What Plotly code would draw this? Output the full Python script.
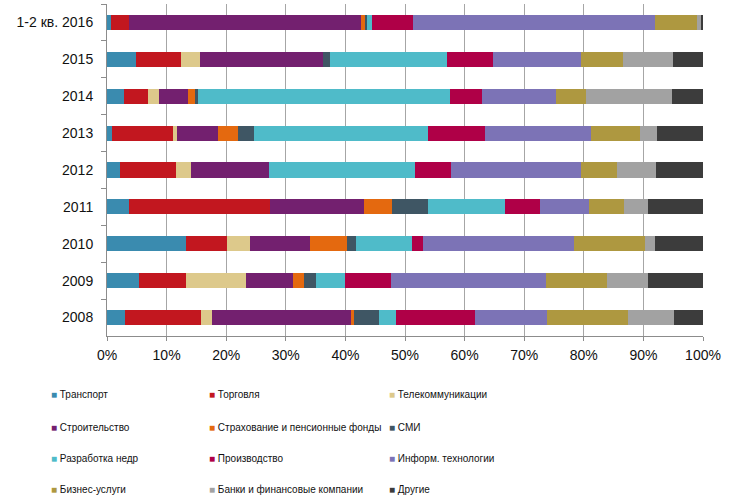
import plotly.graph_objects as go

periods = ["1-2 кв. 2016", "2015", "2014", "2013", "2012", "2011", "2010", "2009", "2008"]

transport    = [0.7, 4.9, 2.8, 0.8, 2.1, 3.7, 13.2, 5.4, 3.1]
trade        = [3.0, 7.5, 4.0, 10.2, 9.4, 23.6, 6.9, 7.8, 12.6]
telecom      = [0.0, 3.2, 1.9, 0.8, 2.6, 0.0, 3.9, 10.2, 1.9]
construction = [38.9, 20.6, 4.9, 6.8, 13.1, 15.9, 10.1, 7.8, 23.5]
insurance    = [0.8, 0.0, 1.2, 3.3, 0.0, 4.6, 6.1, 1.9, 0.3]
media        = [0.3, 1.2, 0.4, 2.7, 0.0, 6.1, 1.5, 1.9, 4.2]
mining       = [0.8, 19.6, 42.3, 29.3, 24.5, 12.9, 9.5, 5.0, 2.9]
production   = [6.8, 7.7, 5.4, 9.5, 6.1, 5.9, 1.9, 7.6, 13.2]
it_sector    = [40.6, 14.8, 12.4, 17.8, 21.7, 8.2, 25.3, 26.0, 12.1]
business     = [7.1, 7.0, 5.0, 8.3, 6.0, 5.8, 11.9, 10.3, 13.6]
banks        = [0.8, 8.5, 14.5, 2.8, 6.6, 4.1, 1.6, 6.8, 7.7]
other        = [0.2, 5.0, 5.2, 7.7, 7.9, 9.2, 8.1, 9.3, 4.9]

series_names = ["Транспорт", "Торговля", "Телекоммуникации",
                "Строительство", "Страхование и пенсионные фонды", "СМИ",
                "Разработка недр", "Производство", "Информ. технологии",
                "Бизнес-услуги", "Банки и финансовые компании", "Другие"]
series_values = [transport, trade, telecom, construction, insurance, media,
                 mining, production, it_sector, business, banks, other]
colors = ["#3A8BAF", "#C2171F", "#DDC98B", "#73206F", "#E4690F", "#3F5664",
          "#4FBBC9", "#AF0047", "#7C73B6", "#AE9840", "#A2A2A2", "#3C3C3C"]

xtick_vals = [0, 10, 20, 30, 40, 50, 60, 70, 80, 90, 100]
xtick_text = ["0%", "10%", "20%", "30%", "40%", "50%", "60%", "70%", "80%", "90%", "100%"]

FONT = "Liberation Sans, Arial, sans-serif"

fig = go.Figure()
for name, vals, col in zip(series_names, series_values, colors):
    fig.add_trace(go.Bar(
        y=periods, x=vals, name=name, orientation="h",
        marker=dict(color=col, line=dict(width=0)),
        showlegend=False,
    ))

W, H = 739, 501
ml, mt, mr, mb = 107, 4, 36, 165
pw = W - ml - mr
ph = H - mt - mb

# legend drawn as real text: coloured square glyph + series name, 3 columns x 4 rows
col_px = [49, 207, 387]
row_px = [394, 427, 458, 489]
for i, (name, col) in enumerate(zip(series_names, colors)):
    r, c = divmod(i, 3)
    fig.add_annotation(
        xref="paper", yref="paper",
        x=(col_px[c] - ml) / pw, y=(H - mb - row_px[r]) / ph,
        xanchor="left", yanchor="middle", showarrow=False,
        text=f'<span style="color:{col}">■</span> {name}',
        font=dict(family=FONT, size=10, color="#111111"),
    )

fig.update_layout(
    width=W, height=H,
    margin=dict(l=ml, r=mr, t=mt, b=mb),
    barmode="stack", barnorm="percent", bargap=0.59,
    plot_bgcolor="white", paper_bgcolor="white",
    font=dict(family=FONT, size=14, color="#111111"),
    showlegend=False,
)
fig.update_xaxes(
    range=[0, 100], tickvals=xtick_vals, ticktext=xtick_text,
    showgrid=True, gridcolor="#A6A6A6", gridwidth=1,
    showline=True, linecolor="#8C8C8C", linewidth=1,
    ticks="outside", ticklen=4, tickcolor="#8C8C8C",
    zeroline=False, tickfont=dict(size=14), ticklabelstandoff=2,
)
fig.update_yaxes(
    type="category", categoryorder="array", categoryarray=periods,
    autorange="reversed",
    showline=True, linecolor="#8C8C8C", linewidth=1,
    ticks="outside", ticklen=5, tickcolor="#8C8C8C", tickson="boundaries",
    showgrid=False, tickfont=dict(size=14), ticklabelstandoff=10,
)

fig.write_html("out.html")
